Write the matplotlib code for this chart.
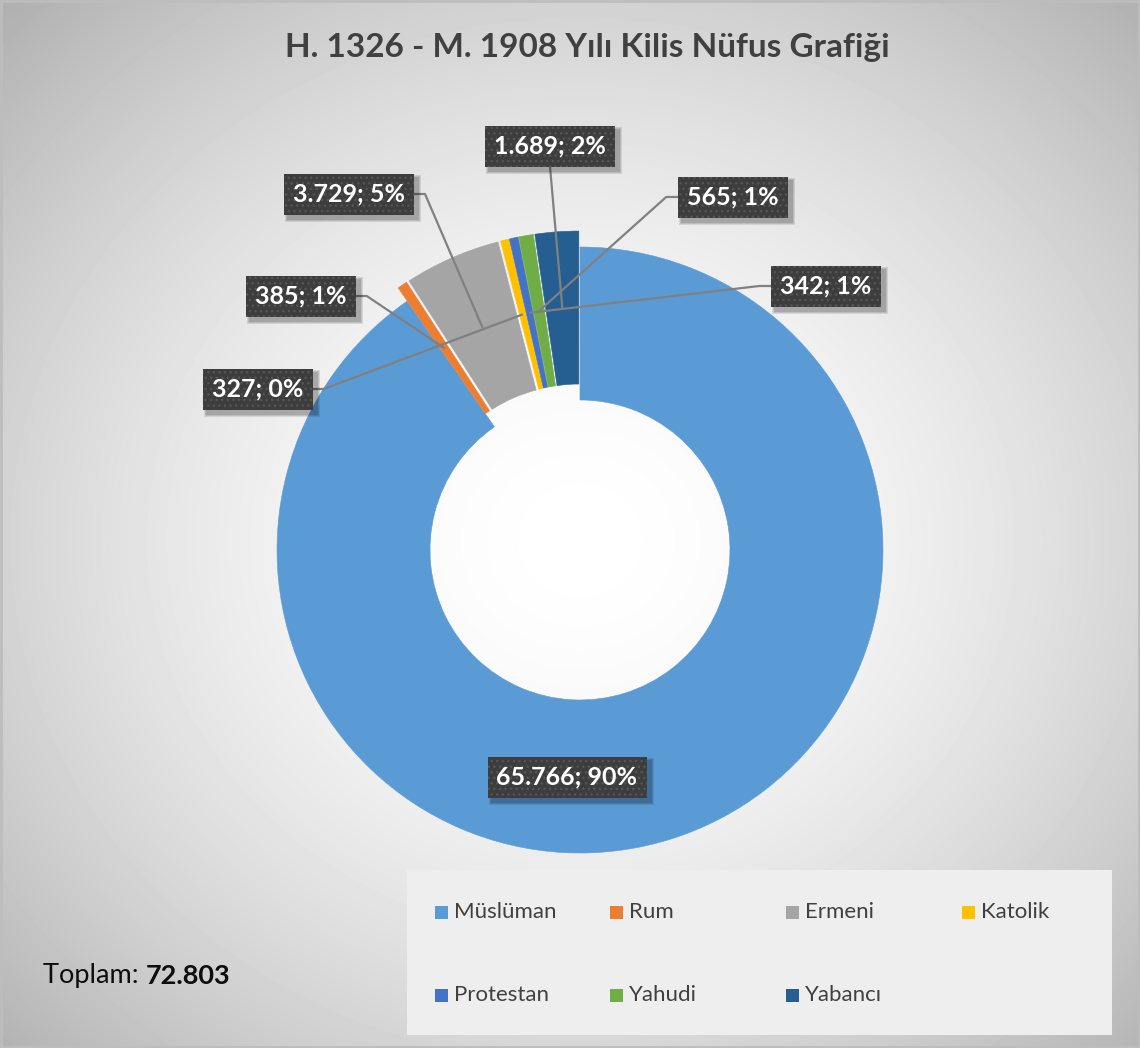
import numpy as np
import matplotlib
matplotlib.use('Agg')
import matplotlib.pyplot as plt
from matplotlib.patches import Rectangle
import matplotlib.patheffects as pe

# ---- data ----
categories = ['Müslüman', 'Rum', 'Ermeni', 'Katolik', 'Protestan', 'Yahudi', 'Yabancı']
values = [65766, 385, 3729, 327, 342, 565, 1689]
value_labels = ['65.766', '385', '3.729', '327', '342', '565', '1.689']
pct_labels = ['90%', '1%', '5%', '0%', '1%', '1%', '2%']
total_label = '72.803'
title = 'H. 1326 - M. 1908 Yılı Kilis Nüfus Grafiği'

# ---- style / layout ----
colors = ['#5B9BD5', '#ED7D31', '#A5A5A5', '#FFC000', '#4472C4', '#70AD47', '#255E91']
W, H = 1140, 1048
FONT = 'Lato'
# label box centres in pixel coords (top-left origin)
label_pos = [(567, 777), (301, 296), (349, 194), (258, 389), (826, 286), (733, 197), (550, 146)]

fig = plt.figure(figsize=(W / 100, H / 100), dpi=100)

# background gradient
bg = fig.add_axes([0, 0, 1, 1])
bg.set_axis_off()
yy, xx = np.mgrid[0:H, 0:W]
d = np.sqrt(((xx - 580) / 720.0) ** 2 + ((yy - 540) / 660.0) ** 2)
img = 1 - 0.25 * np.clip(d, 0, 1.4) ** 1.7
bg.imshow(img, cmap='gray', vmin=0, vmax=1, extent=[0, W, 0, H], origin='upper',
          aspect='auto', interpolation='bilinear')
bg.set_xlim(0, W)
bg.set_ylim(0, H)
bg.add_patch(Rectangle((1, 1), W - 2, H - 2, fill=False, ec='#bdbdbd', lw=2))

ax = fig.add_axes([0, 0, 1, 1])
ax.patch.set_visible(False)

cx, cy = 580, H - 550
R, RW = 303, 153
explode = [0] + [16] * (len(values) - 1)
wedges, _ = ax.pie(values, colors=colors, startangle=90, counterclock=False,
                   radius=R, center=(cx, cy), explode=explode,
                   wedgeprops=dict(width=RW, linewidth=0.4))
for w, c in zip(wedges, colors):
    w.set_edgecolor(c)
ax.set_xlim(0, W)
ax.set_ylim(0, H)
ax.set_aspect('auto')
ax.set_axis_off()

# labels
texts = []
for i, (v, p) in enumerate(zip(value_labels, pct_labels)):
    lx, ly = label_pos[i]
    t = ax.text(lx, H - ly, f'{v}; {p}', ha='center', va='center', color='white',
                fontsize=18, fontweight='bold', family=FONT, zorder=10,
                bbox=dict(boxstyle='square,pad=0.36', fc='#3d3d3d', ec='#555555',
                          lw=0, hatch='...'))
    texts.append(t)

fig.canvas.draw()
inv = ax.transData.inverted()
for i, (w, t) in enumerate(zip(wedges, texts)):
    bb = t.get_bbox_patch().get_window_extent()
    (x0, y0), (x1, y1) = inv.transform([(bb.x0, bb.y0), (bb.x1, bb.y1)])
    # soft shadow
    for k, a in enumerate([0.10, 0.10, 0.12]):
        g = 3 - k
        ax.add_patch(Rectangle((x0 + 4 - g, y0 - 4 - g), (x1 - x0) + 2 * g,
                               (y1 - y0) + 2 * g, fc='black', ec='none',
                               alpha=a, zorder=9))
    if i == 0:
        continue
    th = np.deg2rad(0.5 * (w.theta1 + w.theta2))
    rm = w.r - w.width / 2
    ax_, ay_ = w.center[0] + rm * np.cos(th), w.center[1] + rm * np.sin(th)
    ym = 0.5 * (y0 + y1)
    if ax_ > x1:
        pts = [(x1, ym), (x1 + 11, ym), (ax_, ay_)]
    elif ax_ < x0:
        pts = [(x0, ym), (x0 - 12, ym), (ax_, ay_)]
    else:
        xm = 0.5 * (x0 + x1)
        pts = [(xm, y0), (ax_, ay_)]
    xs, ys = zip(*pts)
    ax.plot(xs, ys, color='#808080', lw=1.6, zorder=5, solid_capstyle='butt')

# title
ax.text(587, H - 48, title, ha='center', va='center', fontsize=24, fontweight='bold',
        color='#404040', family=FONT)

# total
t1 = ax.text(43, H - 976, 'Toplam: ', ha='left', va='center', fontsize=19.5,
             color='#0d0d0d', family=FONT)
fig.canvas.draw()
bb = t1.get_window_extent()
xe = inv.transform((bb.x1, bb.y0))[0]
ax.text(xe, H - 976, total_label, ha='left', va='center', fontsize=19.5,
        fontweight='bold', color='#0d0d0d', family=FONT)

# legend
ax.add_patch(Rectangle((407, H - 1035), 705, 165, fc='#eeeeee', ec='none', zorder=2))
col_x = [435, 610, 786, 962]
row_y = [912, 995]
for i, (name, c) in enumerate(zip(categories, colors)):
    xr = col_x[i % 4]
    yr = row_y[i // 4]
    ax.add_patch(Rectangle((xr, H - yr - 6.5), 13, 13, fc=c, ec='none', zorder=3))
    ax.text(xr + 19, H - yr, name, ha='left', va='center', fontsize=16,
            color='#404040', family=FONT, zorder=3)

fig.savefig('out.png', dpi=100)
